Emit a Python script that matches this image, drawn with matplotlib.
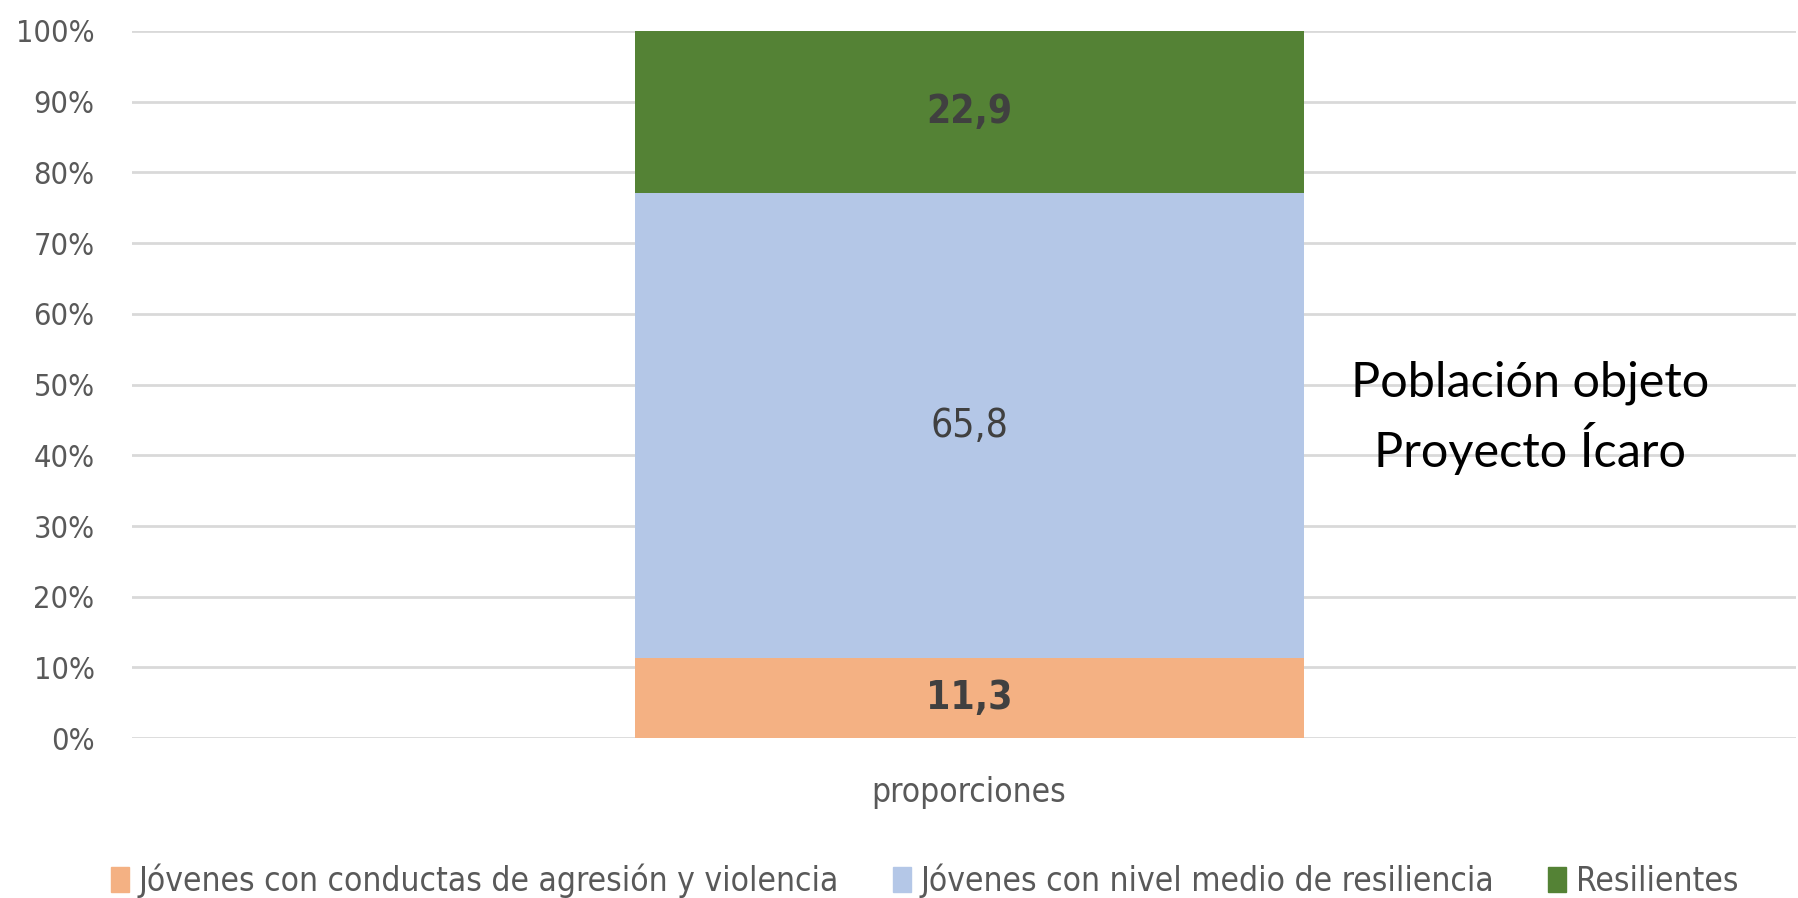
import matplotlib.pyplot as plt
from matplotlib.patches import Patch

# data
category = ['proporciones']
series = ['Jóvenes con conductas de agresión y violencia',
          'Jóvenes con nivel medio de resiliencia',
          'Resilientes']
values = [11.3, 65.8, 22.9]
value_labels = ['11,3', '65,8', '22,9']
colors = ['#F4B183', '#B4C7E7', '#548235']
label_weights = ['bold', 'normal', 'bold']

plt.rcParams['font.family'] = ['DejaVu Sans']
plt.rcParams['font.stretch'] = 'condensed'

fig = plt.figure(figsize=(17.99, 8.98), dpi=100)
ax = fig.add_axes([0.0734, 0.178, 0.925, 0.7875])

bottom = 0
for v, lab, c, w in zip(values, value_labels, colors, label_weights):
    ax.bar(0, v, width=0.402, bottom=bottom, color=c, zorder=2)
    ax.text(0, bottom + v / 2, lab, ha='center', va='center',
            fontsize=28, color='#404040', fontweight=w, zorder=3)
    bottom += v

ax.set_xlim(-0.503, 0.497)
ax.set_ylim(0, 100)
ax.set_yticks(range(0, 101, 10))
ax.set_yticklabels([f'{t}%' for t in range(0, 101, 10)])
ax.set_xticks([0])
ax.set_xticklabels(category)
ax.tick_params(axis='y', length=0, pad=27, labelsize=22, labelcolor='#595959')
ax.tick_params(axis='x', length=0, pad=27, labelsize=24, labelcolor='#595959')
ax.grid(axis='y', color='#D9D9D9', linewidth=2, zorder=0)
for s in ax.spines.values():
    s.set_visible(False)

ax.text(0.84, 0.453, 'Población objeto\nProyecto Ícaro', transform=ax.transAxes,
        ha='center', va='center', fontsize=35, color='black',
        family=['Lato', 'DejaVu Sans'], stretch='normal',
        linespacing=1.38, zorder=3)

handles = [Patch(color=c, label=s) for c, s in zip(colors, series)]
fig.legend(handles=handles, loc='center', bbox_to_anchor=(0.514, 0.019), ncol=3,
           frameon=False, fontsize=24, handlelength=0.55, handleheight=0.75,
           handletextpad=0.3, columnspacing=1.6, labelcolor='#595959')

fig.savefig('out.png', dpi=100)
